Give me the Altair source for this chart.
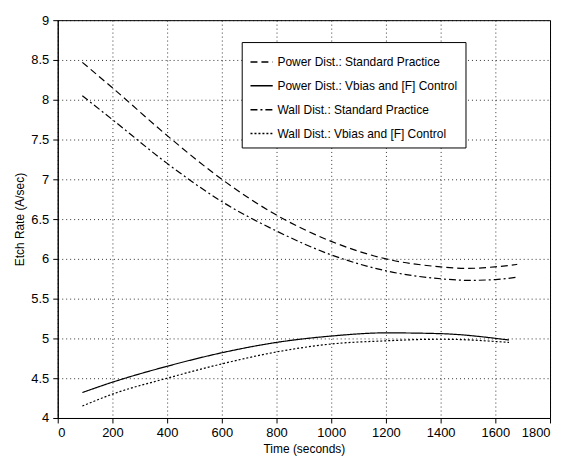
import altair as alt
import pandas as pd

series = ["Power Dist.: Standard Practice", "Power Dist.: Vbias and [F] Control",
          "Wall Dist.: Standard Practice", "Wall Dist.: Vbias and [F] Control"]

t_std = [90, 200, 400, 600, 800, 1000, 1200, 1400, 1500, 1600, 1680]
power_std = [8.47, 8.15, 7.55, 7.0, 6.55, 6.22, 6.0, 5.9, 5.88, 5.9, 5.93]
wall_std = [8.05, 7.75, 7.2, 6.72, 6.35, 6.05, 5.85, 5.75, 5.73, 5.74, 5.77]

t_ctl = [90, 200, 400, 600, 800, 1000, 1200, 1400, 1650]
power_ctl = [4.32, 4.45, 4.65, 4.82, 4.95, 5.03, 5.07, 5.06, 4.98]
wall_ctl = [4.15, 4.3, 4.5, 4.68, 4.83, 4.93, 4.97, 4.99, 4.95]

rows = []
for name, ts, vs in [(series[0], t_std, power_std), (series[1], t_ctl, power_ctl),
                     (series[2], t_std, wall_std), (series[3], t_ctl, wall_ctl)]:
    for t, v in zip(ts, vs):
        rows.append({"series": name, "t": t, "v": v})
df = pd.DataFrame(rows)

chart = alt.Chart(df).mark_line(color="black", strokeWidth=1.2, interpolate="monotone").encode(
    x=alt.X("t:Q", title="Time (seconds)", scale=alt.Scale(domain=[0, 1800], nice=False),
            axis=alt.Axis(values=list(range(0, 1801, 200)), format="d")),
    y=alt.Y("v:Q", title="Etch Rate (A/sec)", scale=alt.Scale(domain=[4, 9], nice=False),
            axis=alt.Axis(values=[4, 4.5, 5, 5.5, 6, 6.5, 7, 7.5, 8, 8.5, 9], format="~g")),
    strokeDash=alt.StrokeDash("series:N", scale=alt.Scale(
        domain=series, range=[[7, 4], [1, 0], [7, 3, 2, 3], [2, 2]]),
        legend=alt.Legend(title=None, orient="none", legendX=185, legendY=22,
                          symbolType="stroke", symbolSize=500, symbolStrokeColor="black",
                          labelFontSize=12, strokeColor="black", fillColor="white",
                          padding=8, rowPadding=6, labelLimit=300)),
    detail="series:N",
).properties(width=495, height=400).configure_view(stroke="black").configure_axis(
    grid=True, gridDash=[1, 3], gridColor="black", gridOpacity=0.8,
    domainColor="black", tickColor="black", labelColor="black", titleColor="black",
    labelFont="Liberation Sans", titleFont="Liberation Sans", labelFontSize=13,
    titleFontSize=12, titleFontWeight="normal", labelPadding=4
).configure_legend(labelFont="Liberation Sans", labelColor="black")

chart.save("out.html", embed_options={"renderer": "svg", "actions": False})
